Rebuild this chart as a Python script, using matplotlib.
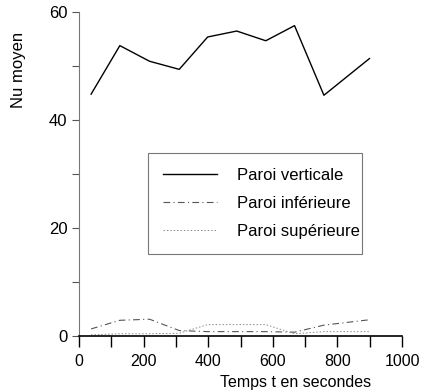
import matplotlib.pyplot as plt

plt.rcParams['font.family'] = ['Liberation Sans', 'DejaVu Sans']

# Temps (s) and Nu moyen for the three walls
temps = [37, 126, 218, 310, 398, 488, 578, 667, 758, 899]
nu_verticale = [44.8, 53.8, 50.9, 49.4, 55.4, 56.5, 54.7, 57.5, 44.6, 51.4]
nu_inferieure = [1.3, 2.9, 3.1, 1.0, 0.8, 0.8, 0.8, 0.7, 2.0, 3.0]
nu_superieure = [0.2, 0.4, 0.4, 0.5, 2.1, 2.1, 2.1, 0.4, 0.8, 0.8]

labels = ["Paroi verticale", "Paroi inférieure", "Paroi supérieure"]

fig = plt.figure(figsize=(4.21, 3.92), dpi=100)
ax = fig.add_axes([0.188, 0.143, 0.767, 0.826])

ax.plot(temps, nu_verticale, color='black', lw=1.0, ls='-', label=labels[0])
ax.plot(temps, nu_inferieure, color='#555555', lw=0.8, ls=(0, (6, 3, 1, 3)), label=labels[1])
ax.plot(temps, nu_superieure, color='#888888', lw=0.7, ls=(0, (1.5, 2)), label=labels[2])

ax.set_xlim(0, 1000)
ax.set_ylim(0, 60)
ax.set_xticks(range(0, 1001, 200))
ax.set_xticks(range(0, 1001, 100), minor=True)
ax.set_yticks(range(0, 61, 20))
ax.set_yticks(range(10, 60, 20), minor=True)

for side in ['top', 'right']:
    ax.spines[side].set_visible(False)
ax.spines['left'].set_color('#777777')
ax.spines['bottom'].set_color('black')
ax.spines['bottom'].set_linewidth(1.2)

ax.tick_params(axis='x', which='major', direction='out', length=8, width=1.0, labelsize=11.5, pad=5)
ax.tick_params(axis='x', which='minor', direction='out', length=8, width=1.0)
ax.tick_params(axis='y', which='both', direction='out', length=5, width=0.8, color='#555555', labelsize=12)

ax.set_ylabel("Nu moyen", fontsize=12, family=['Liberation Sans Narrow', 'Liberation Sans'])
ax.yaxis.set_label_coords(-0.165, 0.82)
ax.set_xlabel("Temps t en secondes", fontsize=11.5)
ax.xaxis.set_label_coords(0.67, -0.12)

leg = ax.legend(loc='center', bbox_to_anchor=(0.214, 0.241, 0.662, 0.339), mode='expand',
                borderaxespad=0, fontsize=12, handlelength=3.2, frameon=True, fancybox=False,
                borderpad=0.9, labelspacing=0.78, handletextpad=1.2)
leg.get_frame().set_edgecolor('#555555')
leg.get_frame().set_linewidth(0.8)

fig.savefig('out.png', dpi=100)
